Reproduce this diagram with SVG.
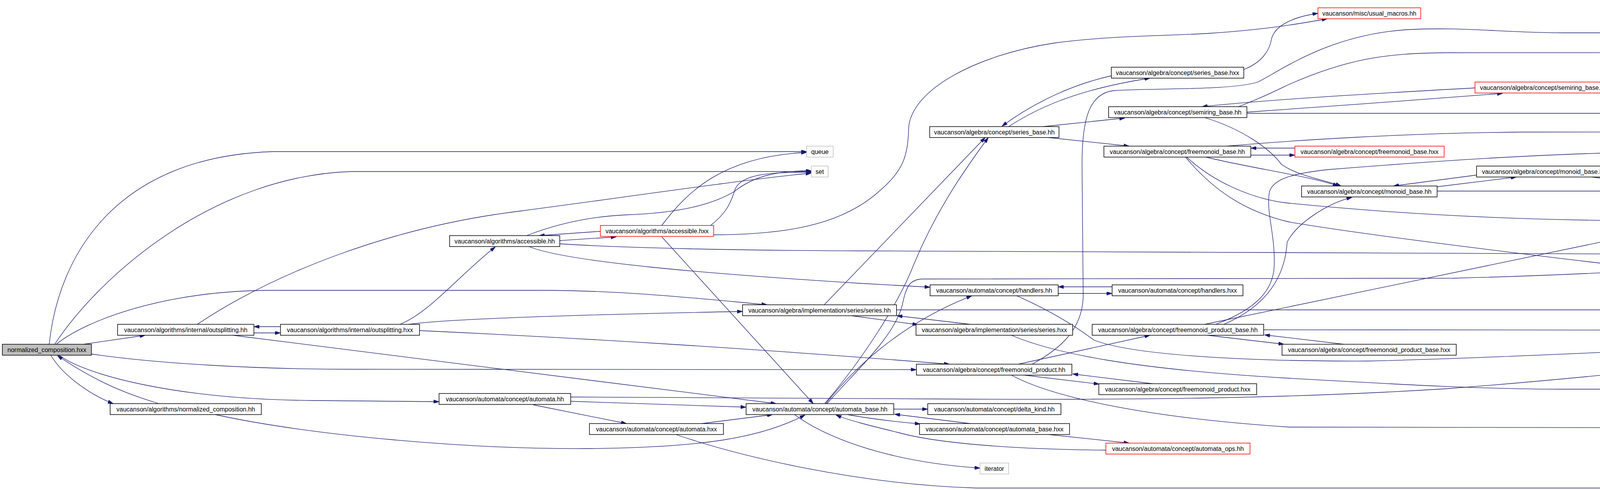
<svg xmlns="http://www.w3.org/2000/svg" width="6536" height="1254" viewBox="0 0 6536 1254">
<defs>
<marker id="a" viewBox="0 0 14 9" refX="14" refY="4.5" markerWidth="14" markerHeight="9" orient="auto" markerUnits="userSpaceOnUse">
<path d="M0,0 L14,4.5 L0,9 z" fill="#191970" stroke="#191970" stroke-width="1"/>
</marker>
<style>
.e path{fill:none;stroke:#191970;stroke-width:1.3;marker-end:url(#a)}
.n rect{fill:#fff;stroke:#000;stroke-width:1.5}
.n.r rect{stroke:#f00}
.n.g rect{stroke:#bfbfbf}
.n.root rect{fill:#bfbfbf}
.n text{font-family:"Liberation Sans",Arial,Helvetica,sans-serif;font-size:16px;text-anchor:middle;fill:#000}
</style>
</defs>
<rect width="6536" height="1254" fill="#fff"/>
<g id="connectors" class="e">
<path d="M214,881 L372,858"/>
<path d="M130,909 C160,960 230,1010 290,1033"/>
<path d="M407,1033 C330,1010 250,980 147,910"/>
<path d="M126,881 C150,650 300,400 700,388 L2065,388"/>
<path d="M140,881 C260,700 550,450 900,439 L2077,439"/>
<path d="M144,881 C220,820 420,743 700,743 L1383,743 C1600,743 1800,765 1964,780"/>
<path d="M234,906 C400,930 650,945 900,945 L2346,946"/>
<path d="M151,909 C220,960 450,1022 800,1025 L1124,1028"/>
<path d="M650,852 L718,852"/>
<path d="M718,836 L650,836"/>
<path d="M505,830 C700,700 1000,580 1333,540 C1600,505 1900,460 2077,443"/>
<path d="M596,858 L1987,1033"/>
<path d="M1024,830 C1100,800 1180,700 1268,632"/>
<path d="M1046,830 C1150,815 1500,805 1901,797"/>
<path d="M1074,846 C1500,866 1900,890 2431,932"/>
<path d="M1537,592 L1380,603"/>
<path d="M1433,616 C1480,612 1530,610 1578,606"/>
<path d="M1348,603 C1420,575 1500,555 1600,550 C1750,545 1830,520 1880,490 C1930,450 1990,437 2077,437"/>
<path d="M1819,577 C1860,545 1870,520 1880,490 C1890,450 1950,440 2077,441"/>
<path d="M1694,577 C1760,490 1850,400 2065,390"/>
<path d="M1827,601 C2000,600 2150,580 2250,490 C2310,440 2325,400 2326,330 C2330,230 2500,140 2700,110 C2850,90 3000,92 3100,85 C3250,75 3330,60 3398,48"/>
<path d="M1694,606 L2082,1033"/>
<path d="M1433,624 C1600,635 1900,641 2200,642 L4400,651 L4612,653"/>
<path d="M1354,631 C1450,670 1800,700 2200,725 L2381,735"/>
<path d="M2110,780 L2522,352"/>
<path d="M2111,1033 C2200,930 2300,780 2340,675 C2400,530 2480,420 2530,352"/>
<path d="M2114,1033 C2180,950 2300,830 2488,757"/>
<path d="M2117,1033 C2200,940 2290,860 2310,780 C2320,730 2330,716 2360,714 L3720,712 C4000,705 4300,690 4612,667"/>
<path d="M2180,808 L2350,831"/>
<path d="M2484,830 L2296,808"/>
<path d="M2295,793 L4900,793 C5100,792 5250,789 5369,787"/>
<path d="M2288,1047 L2375,1047"/>
<path d="M2484,1084 L2290,1060"/>
<path d="M2169,1061 C2230,1072 2300,1080 2356,1085"/>
<path d="M2684,1112 L2891,1134"/>
<path d="M2831,1152 C2600,1150 2400,1135 2300,1107 C2230,1090 2170,1075 2140,1062"/>
<path d="M2034,1061 C2100,1110 2250,1180 2509,1198"/>
<path d="M1461,1027 L1910,1042"/>
<path d="M1365,1036 L1604,1084"/>
<path d="M1796,1084 L1978,1061"/>
<path d="M551,1061 C800,1115 1200,1150 1500,1148 C1800,1146 1950,1120 2061,1062"/>
<path d="M1730,1112 C1900,1170 2200,1240 2500,1249 L5500,1249 C5800,1249 5950,1150 6127,1011"/>
<path d="M1461,1016 C1700,1015 2000,1019 2400,1021 C2900,1024 3300,1020 3700,995 C4300,950 5000,860 5410,797"/>
<path d="M2709,751 L2847,751"/>
<path d="M2847,734 L2709,734"/>
<path d="M2603,757 C2700,800 2760,840 2800,870 C2900,910 3200,925 3500,924 C3900,915 4500,880 5500,844 C5800,840 6000,780 6200,660 C6300,590 6370,520 6405,482"/>
<path d="M2589,858 C2700,905 2900,945 3300,968 C3600,985 3800,996 4000,996 L6042,996"/>
<path d="M3091,858 L3287,881"/>
<path d="M3440,881 L3237,857"/>
<path d="M3235,844 L4500,845 C4750,860 5100,930 5500,945 L6400,946"/>
<path d="M2607,932 L2944,858"/>
<path d="M2642,932 C2720,890 2770,840 2773,760 L2770,420 C2770,300 2790,240 2850,232 C2950,225 3150,232 3220,210 C3280,180 3400,90 3600,76 C3750,68 3850,84 4000,84 L5900,84 C6100,84 6300,150 6391,200"/>
<path d="M2621,960 L2814,983"/>
<path d="M2951,982 L2746,957"/>
<path d="M2589,960 C2700,1020 2950,1070 3300,1093 L5500,1097 C5800,1097 5950,1070 6082,1011"/>
<path d="M3133,830 C3250,780 3290,700 3295,620 C3320,570 3400,520 3461,505"/>
<path d="M3112,830 C3220,790 3260,740 3262,680 C3265,600 3240,540 3250,490 C3260,460 3300,445 3400,434 C3700,410 4000,390 4300,388 L5600,388 C5900,388 6150,340 6391,222"/>
<path d="M3084,830 L4289,580"/>
<path d="M3202,397 L3315,397"/>
<path d="M3315,379 L3202,379"/>
<path d="M3140,374 C3300,360 3600,340 3900,338 L4800,337 C5100,330 5400,315 5600,300 C5900,275 6200,240 6391,214"/>
<path d="M3087,402 C3200,430 3350,450 3426,476"/>
<path d="M3084,301 C3180,330 3250,380 3280,420 C3320,450 3390,460 3433,476"/>
<path d="M3038,402 C3100,460 3200,510 3300,520 C3600,550 3900,563 4187,565"/>
<path d="M3035,402 C3100,480 3180,540 3300,568 C3600,620 4500,720 5100,791 C5600,850 6100,910 6400,942"/>
<path d="M2845,194 C2750,215 2650,260 2565,323"/>
<path d="M2582,324 C2650,280 2750,230 2944,200"/>
<path d="M2670,324 L2880,302"/>
<path d="M2684,352 L2891,374"/>
<path d="M3184,178 C3230,160 3250,130 3255,100 C3262,70 3300,45 3374,34"/>
<path d="M3192,287 C3400,272 3650,255 3847,239"/>
<path d="M3776,225 C3500,240 3250,255 3077,273"/>
<path d="M3168,274 C3230,250 3260,235 3300,216 C3450,150 3550,136 3700,135 L5600,134 C6000,140 6250,170 6391,200"/>
<path d="M3192,290 L4800,290 C5000,294 5300,320 5500,346 C5800,385 6000,420 6082,454"/>
<path d="M4135,211 C4250,200 4500,185 4800,185 L5950,185 C6150,188 6300,200 6391,206"/>
<path d="M4135,228 C4300,233 4600,236 5000,236 L5350,236 C5700,250 6100,330 6385,455"/>
<path d="M3780,448 L3567,476"/>
<path d="M3679,478 L3882,453"/>
<path d="M4075,453 L4254,476"/>
<path d="M3679,489 L4184,489"/>
<path d="M4449,504 C4520,525 4580,560 4610,590 C4650,615 4700,630 4737,641"/>
<path d="M4549,569 L4601,567"/>
<path d="M4601,550 L4528,552"/>
<path d="M4421,580 C4500,600 4600,625 4695,641"/>
<path d="M4549,580 L5372,643"/>
<path d="M4970,541 C5300,520 5700,495 6037,476"/>
<path d="M4937,669 L5031,679"/>
<path d="M5320,695 L5690,704"/>
<path d="M5242,707 C5330,730 5400,745 5463,768"/>
<path d="M5637,656 C5900,665 6150,700 6375,770"/>
<path d="M5599,669 L5751,692"/>
<path d="M5563,768 L5774,720"/>
<path d="M5700,772 L5639,772"/>
<path d="M5639,791 L5700,791"/>
<path d="M5913,768 C5990,745 6030,700 6070,640 C6100,590 6120,530 6138,482"/>
<path d="M5860,796 L6121,983"/>
<path d="M6164,454 L6405,226"/>
<path d="M6261,468 L6378,468"/>
<path d="M6168,982 L6402,796"/>
<path d="M6224,982 L6400,952"/>
<path d="M6309,988 L6257,988"/>
<path d="M6257,1005 L6309,1005"/>
<path d="M6227,1010 L6380,1038"/>
<path d="M6177,1010 C6230,1040 6320,1080 6393,1092"/>
</g>
<g id="node0" class="n root"><rect x="6" y="881" width="228" height="28"/><text x="120" y="901">normalized_composition.hxx</text></g>
<g id="node1" class="n"><rect x="301" y="830" width="349" height="28"/><text x="475.5" y="850">vaucanson/algorithms/internal/outsplitting.hh</text></g>
<g id="node2" class="n"><rect x="718" y="830" width="356" height="28"/><text x="896" y="850">vaucanson/algorithms/internal/outsplitting.hxx</text></g>
<g id="node3" class="n"><rect x="282" y="1033" width="387" height="28"/><text x="475.5" y="1053">vaucanson/algorithms/normalized_composition.hh</text></g>
<g id="node4" class="n g"><rect x="2065" y="374" width="68" height="28"/><text x="2099" y="394">queue</text></g>
<g id="node5" class="n g"><rect x="2077" y="425" width="43" height="28"/><text x="2098.5" y="445">set</text></g>
<g id="node6" class="n r"><rect x="1537" y="577" width="290" height="28"/><text x="1682" y="597">vaucanson/algorithms/accessible.hxx</text></g>
<g id="node7" class="n"><rect x="1151" y="603" width="282" height="28"/><text x="1292" y="623">vaucanson/algorithms/accessible.hh</text></g>
<g id="node8" class="n"><rect x="1901" y="780" width="394" height="28"/><text x="2098" y="800">vaucanson/algebra/implementation/series/series.hh</text></g>
<g id="node9" class="n"><rect x="1124" y="1007" width="337" height="28"/><text x="1292.5" y="1027">vaucanson/automata/concept/automata.hh</text></g>
<g id="node10" class="n"><rect x="1910" y="1033" width="378" height="28"/><text x="2099" y="1053">vaucanson/automata/concept/automata_base.hh</text></g>
<g id="node11" class="n"><rect x="1509" y="1084" width="343" height="28"/><text x="1680.5" y="1104">vaucanson/automata/concept/automata.hxx</text></g>
<g id="node12" class="n"><rect x="2845" y="172" width="339" height="28"/><text x="3014.5" y="192">vaucanson/algebra/concept/series_base.hxx</text></g>
<g id="node13" class="n"><rect x="2838" y="273" width="354" height="28"/><text x="3015" y="293">vaucanson/algebra/concept/semiring_base.hh</text></g>
<g id="node14" class="n"><rect x="2380" y="324" width="331" height="28"/><text x="2545.5" y="344">vaucanson/algebra/concept/series_base.hh</text></g>
<g id="node15" class="n"><rect x="2826" y="374" width="376" height="28"/><text x="3014" y="394">vaucanson/algebra/concept/freemonoid_base.hh</text></g>
<g id="node16" class="n"><rect x="2381" y="729" width="328" height="28"/><text x="2545" y="749">vaucanson/automata/concept/handlers.hh</text></g>
<g id="node17" class="n"><rect x="2847" y="729" width="335" height="28"/><text x="3014.5" y="749">vaucanson/automata/concept/handlers.hxx</text></g>
<g id="node18" class="n"><rect x="2345" y="830" width="401" height="28"/><text x="2545.5" y="850">vaucanson/algebra/implementation/series/series.hxx</text></g>
<g id="node19" class="n"><rect x="2796" y="830" width="439" height="28"/><text x="3015.5" y="850">vaucanson/algebra/concept/freemonoid_product_base.hh</text></g>
<g id="node20" class="n"><rect x="3282" y="881" width="446" height="28"/><text x="3505" y="901">vaucanson/algebra/concept/freemonoid_product_base.hxx</text></g>
<g id="node21" class="n"><rect x="2346" y="932" width="398" height="28"/><text x="2545" y="952">vaucanson/algebra/concept/freemonoid_product.hh</text></g>
<g id="node22" class="n"><rect x="2813" y="982" width="404" height="28"/><text x="3015" y="1002">vaucanson/algebra/concept/freemonoid_product.hxx</text></g>
<g id="node23" class="n"><rect x="2375" y="1033" width="341" height="28"/><text x="2545.5" y="1053">vaucanson/automata/concept/delta_kind.hh</text></g>
<g id="node24" class="n"><rect x="2354" y="1084" width="384" height="28"/><text x="2546" y="1104">vaucanson/automata/concept/automata_base.hxx</text></g>
<g id="node25" class="n r"><rect x="2831" y="1134" width="369" height="28"/><text x="3015.5" y="1154">vaucanson/automata/concept/automata_ops.hh</text></g>
<g id="node26" class="n g"><rect x="2509" y="1185" width="73" height="28"/><text x="2545.5" y="1205">iterator</text></g>
<g id="node27" class="n r"><rect x="3374" y="20" width="263" height="28"/><text x="3505.5" y="40">vaucanson/misc/usual_macros.hh</text></g>
<g id="node28" class="n r"><rect x="3776" y="210" width="359" height="28"/><text x="3955.5" y="230">vaucanson/algebra/concept/semiring_base.hxx</text></g>
<g id="node29" class="n r"><rect x="3315" y="374" width="382" height="28"/><text x="3506" y="394">vaucanson/algebra/concept/freemonoid_base.hxx</text></g>
<g id="node30" class="n"><rect x="3780" y="425" width="353" height="28"/><text x="3956.5" y="445">vaucanson/algebra/concept/monoid_base.hxx</text></g>
<g id="node31" class="n"><rect x="3332" y="476" width="347" height="28"/><text x="3505.5" y="496">vaucanson/algebra/concept/monoid_base.hh</text></g>
<g id="node32" class="n r"><rect x="4184" y="476" width="368" height="28"/><text x="4368" y="496">vaucanson/algebra/concept/semigroup_base.hh</text></g>
<g id="node33" class="n"><rect x="4187" y="552" width="362" height="28"/><text x="4368" y="572">vaucanson/algebra/concept/alphabets_base.hh</text></g>
<g id="node34" class="n r"><rect x="4601" y="540" width="369" height="28"/><text x="4785.5" y="560">vaucanson/algebra/concept/alphabets_base.hxx</text></g>
<g id="node35" class="n"><rect x="4612" y="641" width="346" height="28"/><text x="4785" y="661">vaucanson/design_pattern/design_pattern.hh</text></g>
<g id="node36" class="n r"><rect x="5019" y="679" width="301" height="28"/><text x="5169.5" y="699">vaucanson/design_pattern/element.hh</text></g>
<g id="node37" class="n r"><rect x="5372" y="641" width="265" height="28"/><text x="5504.5" y="661">vaucanson/misc/container_ops.hh</text></g>
<g id="node38" class="n"><rect x="5369" y="768" width="270" height="28"/><text x="5504" y="788">vaucanson/design_pattern/slots.hh</text></g>
<g id="node39" class="n r"><rect x="5690" y="692" width="299" height="28"/><text x="5839.5" y="712">vaucanson/design_pattern/predecls.hh</text></g>
<g id="node40" class="n r"><rect x="5700" y="768" width="277" height="28"/><text x="5838.5" y="788">vaucanson/design_pattern/slots.hxx</text></g>
<g id="node41" class="n g"><rect x="6391" y="198" width="59" height="28"/><text x="6420.5" y="218">string</text></g>
<g id="node42" class="n g"><rect x="6378" y="454" width="84" height="28"/><text x="6420" y="474">iostream</text></g>
<g id="node43" class="n r"><rect x="6037" y="454" width="224" height="28"/><text x="6149" y="474">vaucanson/misc/contract.hh</text></g>
<g id="node44" class="n g"><rect x="6375" y="768" width="91" height="28"/><text x="6420.5" y="788">algorithm</text></g>
<g id="node45" class="n g"><rect x="6400" y="932" width="41" height="28"/><text x="6420.5" y="952">list</text></g>
<g id="node46" class="n"><rect x="6042" y="982" width="215" height="28"/><text x="6149.5" y="1002">vaucanson/misc/unique.hh</text></g>
<g id="node47" class="n"><rect x="6309" y="982" width="222" height="28"/><text x="6420" y="1002">vaucanson/misc/unique.hxx</text></g>
<g id="node48" class="n g"><rect x="6380" y="1033" width="81" height="28"/><text x="6420.5" y="1053">typeinfo</text></g>
<g id="node49" class="n g"><rect x="6393" y="1084" width="55" height="28"/><text x="6420.5" y="1104">map</text></g>
</svg>
